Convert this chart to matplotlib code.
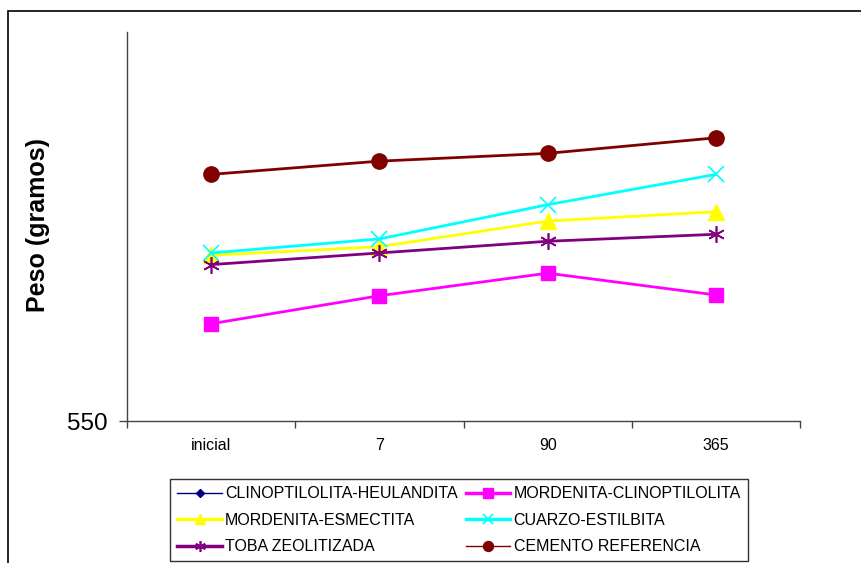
import numpy as np
import matplotlib
matplotlib.use("Agg")
import matplotlib.pyplot as plt
from matplotlib.patches import Rectangle

plt.rcParams["font.family"] = ["Liberation Sans", "DejaVu Sans"]

categories = ["inicial", "7", "90", "365"]

# CLINOPTILOLITA-HEULANDITA is not visible in the reference (off the plotted range)
clino_heul = [np.nan, np.nan, np.nan, np.nan]
mord_clino = [562.5, 566.1, 569.0, 566.2]
mord_esmec = [571.3, 572.4, 575.7, 576.9]
cuarzo_estil = [571.6, 573.4, 577.8, 581.7]
toba_zeol = [570.1, 571.6, 573.1, 574.0]
cemento_ref = [581.7, 583.4, 584.4, 586.4]

fig = plt.figure(figsize=(8.61, 5.63), dpi=100)

# outer chart frame (right and bottom edges fall outside the picture)
fig.patches.append(Rectangle((8 / 861, -0.05), 1.0, (563 - 11) / 563 + 0.05,
                             transform=fig.transFigure, fill=False,
                             edgecolor="black", linewidth=1.2))

ax = fig.add_axes([127 / 861, (563 - 421) / 563, 673 / 861, (421 - 32) / 563])

x = np.arange(len(categories))
ax.plot(x, clino_heul, color="#000080", marker="D", markersize=6, linewidth=1,
        label="CLINOPTILOLITA-HEULANDITA")
ax.plot(x, mord_clino, color="#ff00ff", marker="s", markersize=10, linewidth=2,
        label="MORDENITA-CLINOPTILOLITA")
ax.plot(x, mord_esmec, color="#ffff00", marker="^", markersize=11, linewidth=2,
        label="MORDENITA-ESMECTITA")
ax.plot(x, cuarzo_estil, color="#00ffff", marker="x", markersize=11, markeredgewidth=1.2,
        linewidth=2, label="CUARZO-ESTILBITA")
ax.plot(x, toba_zeol, color="#800080", marker=(6, 2, 0), markersize=12, markeredgewidth=1.2,
        linewidth=2, label="TOBA ZEOLITIZADA")
ax.plot(x, cemento_ref, color="#800000", marker="o", markersize=11, linewidth=2,
        label="CEMENTO REFERENCIA")

ax.set_xlim(-0.5, 3.5)
ax.set_ylim(550, 600)
ax.set_yticks([550])
ax.set_yticklabels(["550"], fontsize=17.5)
ax.tick_params(axis="y", direction="out", length=5.8, width=1, color="#444444", pad=8.5)

ax.set_xticks(x)
ax.set_xticklabels(categories, fontsize=11.5)
ax.set_xticks(np.arange(-0.5, 4.0, 1.0), minor=True)
ax.tick_params(axis="x", which="major", length=0, pad=12)
ax.tick_params(axis="x", which="minor", direction="out", length=5, width=1, color="#444444")

for side in ["top", "right"]:
    ax.spines[side].set_visible(False)
for side in ["left", "bottom"]:
    ax.spines[side].set_color("#444444")
    ax.spines[side].set_linewidth(1)

fig.text(38 / 861, 1 - 225 / 563, "Peso (gramos)", rotation=90, fontsize=18,
         fontweight="bold", ha="center", va="center")

handles, labels = ax.get_legend_handles_labels()
order = [0, 2, 4, 1, 3, 5]
leg = fig.legend([handles[i] for i in order], [labels[i] for i in order],
                 ncol=2, loc="upper left",
                 bbox_to_anchor=(170 / 861, 1 - 479 / 563),
                 fontsize=11.5, frameon=True, fancybox=False, edgecolor="black",
                 handlelength=2.8, handletextpad=0.2, columnspacing=0.5,
                 labelspacing=0.72, borderpad=0.45, borderaxespad=0,
                 markerscale=0.65)
leg.get_frame().set_linewidth(1)
# legend keys: thin lines for the first and last series, thick for the rest
for line, lw in zip(leg.get_lines(), [1, 2.5, 2.5, 2.5, 2.5, 1]):
    line.set_linewidth(lw)

fig.savefig("out.png", dpi=100)
